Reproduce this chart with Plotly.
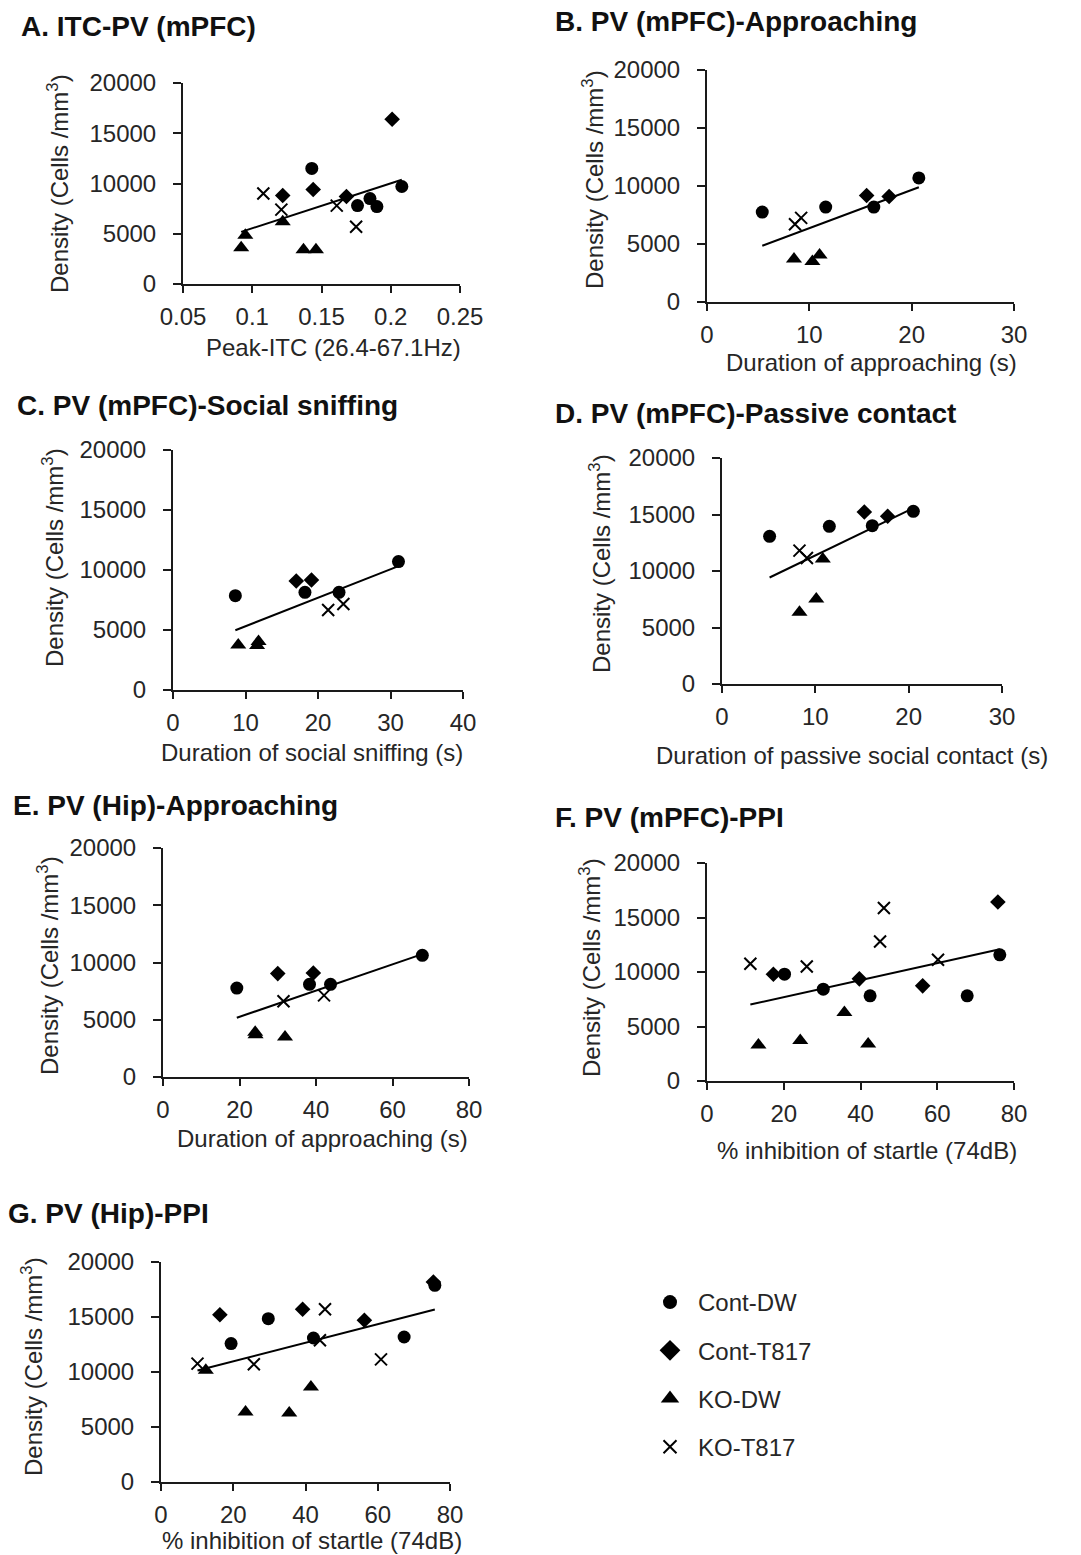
import numpy as np
import plotly.graph_objects as go

W, H = 1081, 1555

GROUPS = ["Cont-DW", "Cont-T817", "KO-DW", "KO-T817"]
CD, CT, KD, KT = GROUPS

# ---------------- data ----------------
A_x = [0.143, 0.208, 0.176, 0.185, 0.190, 0.201, 0.122, 0.144, 0.168,
       0.095, 0.092, 0.122, 0.137, 0.146, 0.108, 0.121, 0.161, 0.175]
A_y = [11500, 9700, 7800, 8500, 7700, 16400, 8800, 9400, 8700,
       4850, 3600, 6200, 3400, 3400, 9000, 7400, 7800, 5700]
A_g = [CD] * 5 + [CT] * 4 + [KD] * 5 + [KT] * 4

B_x = [5.4, 11.6, 16.3, 20.7, 15.6, 17.8, 8.5, 10.3, 11.0, 8.6, 9.2]
B_y = [7750, 8180, 8180, 10700, 9180, 9100, 3700, 3500, 4050, 6700, 7250]
B_g = [CD] * 4 + [CT] * 2 + [KD] * 3 + [KT] * 2

C_x = [8.6, 18.2, 22.9, 31.1, 17.0, 19.1, 9.0, 11.6, 11.8, 21.4, 23.5]
C_y = [7860, 8140, 8140, 10700, 9080, 9170, 3750, 3700, 4050, 6670, 7170]
C_g = [CD] * 4 + [CT] * 2 + [KD] * 3 + [KT] * 2

D_x = [5.1, 11.5, 16.1, 20.5, 15.25, 17.75, 8.3, 10.1, 10.8, 8.3, 9.1]
D_y = [13070, 13950, 14010, 15280, 15220, 14840, 6340, 7520, 11060, 11800, 11150]
D_g = [CD] * 4 + [CT] * 2 + [KD] * 3 + [KT] * 2

E_x = [19.3, 38.3, 43.8, 67.8, 30.0, 39.3, 24.1, 24.2, 31.9, 31.5, 42.1]
E_y = [7770, 8090, 8090, 10630, 9030, 9080, 3900, 3700, 3500, 6610, 7130]
E_g = [CD] * 4 + [CT] * 2 + [KD] * 3 + [KT] * 2

F_x = [20.2, 30.3, 42.5, 67.8, 76.3, 17.3, 39.7, 56.2, 75.8,
       13.4, 24.3, 35.8, 42.0, 11.3, 26.0, 45.1, 46.1, 60.2]
F_y = [9800, 8420, 7810, 7810, 11580, 9800, 9370, 8730, 16420,
       3310, 3710, 6280, 3400, 10750, 10500, 12800, 15870, 11120]
F_g = [CD] * 5 + [CT] * 4 + [KD] * 4 + [KT] * 5

G_x = [19.4, 29.7, 42.2, 67.3, 75.8, 16.3, 39.2, 56.3, 75.4,
       12.4, 23.4, 35.5, 41.5, 10.1, 25.7, 45.4, 44.0, 60.9]
G_y = [12580, 14850, 13090, 13180, 17880, 15210, 15700, 14700, 18180,
       10150, 6360, 6270, 8640, 10760, 10700, 15700, 12880, 11150]
G_g = [CD] * 5 + [CT] * 4 + [KD] * 4 + [KT] * 5

titles = ["A. ITC-PV (mPFC)", "B. PV (mPFC)-Approaching", "C. PV (mPFC)-Social sniffing",
          "D. PV (mPFC)-Passive contact", "E. PV (Hip)-Approaching", "F. PV (mPFC)-PPI",
          "G. PV (Hip)-PPI"]
x_titles = ["Peak-ITC (26.4-67.1Hz)", "Duration of approaching (s)",
            "Duration of social sniffing (s)", "Duration of passive social contact (s)",
            "Duration of approaching (s)", "% inhibition of startle (74dB)",
            "% inhibition of startle (74dB)"]
y_title = "Density (Cells /mm<sup>3</sup>)"
x_ranges = [(0.05, 0.25), (0, 30), (0, 40), (0, 30), (0, 80), (0, 80), (0, 80)]
x_dticks = [0.05, 10, 10, 10, 20, 20, 20]
y_range = (0, 20000)
y_dtick = 5000

data = [(A_x, A_y, A_g), (B_x, B_y, B_g), (C_x, C_y, C_g), (D_x, D_y, D_g),
        (E_x, E_y, E_g), (F_x, F_y, F_g), (G_x, G_y, G_g)]

# ---------------- layout geometry (pixels) ----------------
boxes = [(183, 460, 83, 284), (707, 1014, 70, 302), (173, 463, 450, 690),
         (722, 1002, 458, 684), (163, 469, 848, 1077), (707, 1014, 863, 1081),
         (161, 450, 1262, 1482)]
title_pos = [(19, 26), (553, 22), (15, 405), (553, 413), (11, 805), (553, 817), (6, 1213)]
xt_pos = [(333, 347), (871, 362), (312, 752), (852, 755), (322, 1138), (867, 1150), (312, 1540)]
yt_pos = [(58, 184), (593, 180), (53, 558), (600, 564), (48, 966), (590, 968), (32, 1367)]

styles = {
    CD: dict(symbol="circle", size=13, color="black"),
    CT: dict(symbol="diamond", size=12, color="black"),
    KD: dict(symbol="triangle-up", size=14, color="black"),
    KT: dict(symbol="x-thin", size=12, color="black", line=dict(width=2, color="black")),
}
legend_styles = {
    CD: dict(symbol="circle", size=14, color="black"),
    CT: dict(symbol="diamond", size=18, color="black"),
    KD: dict(symbol="triangle-up", size=16, color="black"),
    KT: dict(symbol="x-thin", size=13, color="black", line=dict(width=2, color="black")),
}

FONT = "Liberation Sans, Arial, sans-serif"
TXT = "#262626"
AX = "#1a1a1a"

def fx(p):
    return p / W

def fy(p):
    return 1 - p / H

fig = go.Figure()
layout = dict(template="none", width=W, height=H, margin=dict(l=0, r=0, t=0, b=0, pad=0),
              paper_bgcolor="white", plot_bgcolor="white",
              font=dict(family=FONT, size=24, color=TXT), showlegend=True)
annotations = []

for i, ((xs, ys, gs), box) in enumerate(zip(data, boxes)):
    n = i + 1
    xa = "x" if n == 1 else f"x{n}"
    ya = "y" if n == 1 else f"y{n}"
    xs = np.array(xs, dtype=float)
    ys = np.array(ys, dtype=float)
    gs = np.array(gs)
    for g in GROUPS:
        m = gs == g
        fig.add_trace(go.Scatter(x=xs[m], y=ys[m], mode="markers", name=g,
                                 legendgroup=g, showlegend=False,
                                 marker=styles[g], xaxis=xa, yaxis=ya,
                                 cliponaxis=False))
    # linear trend line computed from the panel's data
    k, b = np.polyfit(xs, ys, 1)
    lx = np.array([xs.min(), xs.max()])
    fig.add_trace(go.Scatter(x=lx, y=k * lx + b, mode="lines", showlegend=False,
                             line=dict(color="black", width=2), xaxis=xa, yaxis=ya,
                             hoverinfo="skip"))
    x0, x1, y0, y1 = box
    axkey = "xaxis" if n == 1 else f"xaxis{n}"
    aykey = "yaxis" if n == 1 else f"yaxis{n}"
    common = dict(showline=True, linecolor=AX, linewidth=2, ticks="outside",
                  tickwidth=2, tickcolor=AX, showgrid=False, zeroline=False,
                  automargin=False, mirror=False,
                  tickfont=dict(family=FONT, size=24, color=TXT))
    layout[axkey] = dict(common, domain=[fx(x0), fx(x1)], range=list(x_ranges[i]),
                         dtick=x_dticks[i], tick0=x_ranges[i][0], ticklen=7,
                         anchor=ya, ticklabelstandoff=3)
    layout[aykey] = dict(common, domain=[fy(y1), fy(y0)], range=list(y_range),
                         dtick=y_dtick, ticklen=8, anchor=xa, ticklabelstandoff=12,
                         tickformat="d")
    tx, ty = title_pos[i]
    annotations.append(dict(text="<b>" + titles[i] + "</b>", x=fx(tx), y=fy(ty),
                            xref="paper", yref="paper", xanchor="left", yanchor="middle",
                            showarrow=False, font=dict(family=FONT, size=28, color="#111")))
    xx, xy = xt_pos[i]
    annotations.append(dict(text=x_titles[i], x=fx(xx), y=fy(xy), xref="paper",
                            yref="paper", xanchor="center", yanchor="middle",
                            showarrow=False, font=dict(family=FONT, size=24, color=TXT)))
    yx, yy = yt_pos[i]
    annotations.append(dict(text=y_title, x=fx(yx), y=fy(yy), xref="paper",
                            yref="paper", xanchor="center", yanchor="middle",
                            textangle=-90, showarrow=False,
                            font=dict(family=FONT, size=24, color=TXT)))

# legend entries (legend-only traces with slightly larger symbols, as in the figure)
for g in GROUPS:
    fig.add_trace(go.Scatter(x=[None], y=[None], mode="markers", name=g,
                             legendgroup=g, showlegend=True,
                             marker=legend_styles[g], xaxis="x", yaxis="y"))

layout["annotations"] = annotations
layout["legend"] = dict(x=fx(642), y=fy(1280), xanchor="left", yanchor="top",
                        font=dict(family=FONT, size=24, color=TXT),
                        bgcolor="rgba(0,0,0,0)", tracegroupgap=14, itemwidth=46,
                        traceorder="grouped", itemsizing="trace")
fig.update_layout(**layout)
fig.write_html("out.html", config={"displayModeBar": False},
               post_script="document.body.style.margin='0px';document.body.style.padding='0px';")
